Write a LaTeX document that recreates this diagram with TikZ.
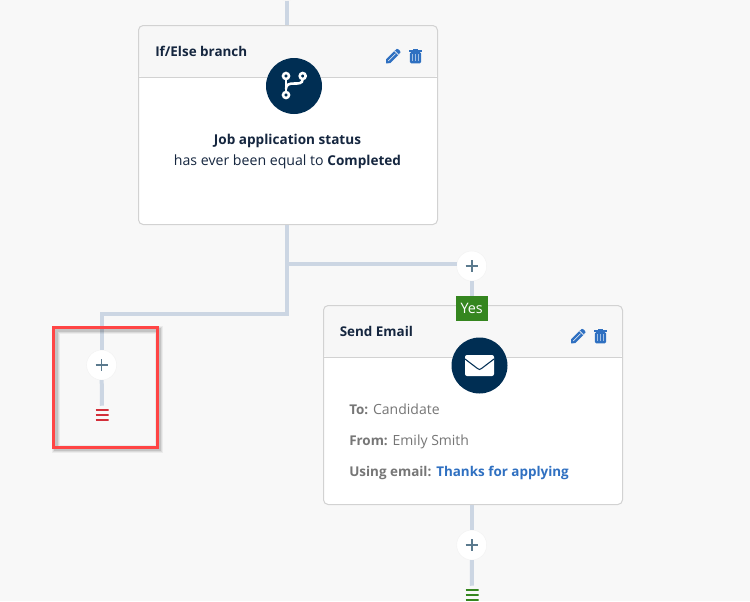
\documentclass[tikz,border=0pt]{standalone}
\usepackage{fontspec}
\setmainfont{Open Sans}
\newfontfamily\medfont[Scale=.96]{Open Sans}
\newcommand{\med}{\medfont\bfseries}
\definecolor{pagegray}{HTML}{F8F8F8}
\definecolor{headgray}{HTML}{F7F7F7}
\definecolor{cardgray}{HTML}{D2D2D2}
\definecolor{wirecol}{HTML}{CCD6E3}
\definecolor{navy}{HTML}{002E53}
\definecolor{inkcol}{HTML}{15263F}
\definecolor{iconblue}{HTML}{2F70C1}
\definecolor{greytext}{HTML}{767676}
\definecolor{pluscol}{HTML}{5B7A8E}
\definecolor{yesgreen}{HTML}{35861F}
\definecolor{stopred}{HTML}{D32F3A}
\definecolor{framered}{HTML}{FF4545}
\tikzset{
	wire/.style={draw=wirecol, line width=3pt},
	cardbox/.style={draw=cardgray, fill=white, line width=.75pt, rounded corners=3.5pt, inner sep=0pt,
		minimum width=224.25pt, minimum height=149.25pt,
		path picture={
			\fill[headgray] (path picture bounding box.north west) rectangle ([yshift=-39pt]path picture bounding box.north east);
			\draw[cardgray, line width=.75pt] ([yshift=-39pt]path picture bounding box.north west) -- ([yshift=-39pt]path picture bounding box.north east);
		}},
	plusnode/.style={circle, fill=white, draw=white!95!black, line width=.3pt, minimum size=22.5pt, inner sep=0pt,
		path picture={
			\draw[pluscol, line width=1.2pt, shift={(path picture bounding box.center)}] (-6,0) -- (6,0) (0,-6) -- (0,6);
		}},
	barsnode/.style={minimum width=9.75pt, minimum height=13.5pt, inner sep=0pt,
		path picture={
			\draw[#1, line width=1.4pt, shift={(path picture bounding box.center)}] (-6.5,-4.8) -- (6.5,-4.8) (-6.5,0) -- (6.5,0) (-6.5,4.6) -- (6.5,4.6);
		}},
	badge/.style={circle, fill=navy, minimum size=42pt, inner sep=0pt},
	flag/.style={fill=yesgreen, text=white, minimum width=24pt, minimum height=18.75pt, inner sep=0pt, font=\fontsize{10.8pt}{12pt}\selectfont},
	title/.style={anchor=base west, inner sep=0pt, text=inkcol, font=\fontsize{10.5pt}{12pt}\med},
	body/.style={anchor=base, inner sep=0pt, text=inkcol, font=\fontsize{10.6pt}{12pt}\selectfont},
	info/.style={anchor=base west, inner sep=0pt, text=greytext, font=\fontsize{10.5pt}{12pt}\selectfont},
	pencilicon/.pic={
		\fill[iconblue] (-7,7) -- (-6.9,2.9) -- (2.3,-6.3) -- (6.3,-2.3) -- (-2.9,6.9) -- cycle;
		\fill[iconblue, rounded corners=.8pt] (3.4,-7.4) -- (4.8,-7.6) -- (7.6,-4.8) -- (7.4,-3.4) -- (6.3,-2.3) -- (2.3,-6.3) -- cycle;
		\draw[pagegray, line width=.55pt] (1.5,-5.5) -- (5.5,-1.5);
		\draw[pagegray, line width=.4pt] (-4.6,4.6) -- (2.6,-2.6);
	},
	trashicon/.pic={
		\fill[iconblue] (-2.6,-7.4) rectangle (2.6,-5);
		\fill[iconblue] (-6.5,-6) rectangle (6.5,-4.4);
		\fill[iconblue, rounded corners=1pt] (-5.6,-3.8) rectangle (5.6,7.3);
		\foreach \s in {-2.7,0,2.7}
			\fill[white!55!iconblue] (\s-.6,-1.8) rectangle (\s+.6,5.2);
	},
	forkicon/.pic={
		\draw[white, line width=1.9pt] (-8,-7) -- (-8,6);
		\draw[white, line width=1.9pt] (8.7,-7) .. controls (8.7,-2) and (4,-2.5) .. (0,-2.5) .. controls (-5,-2.5) and (-8,-1.5) .. (-8,3);
		\draw[white, fill=navy, line width=1.9pt] (-8,-10) circle (3) (8.7,-10) circle (3) (-8,9) circle (3);
	},
	mailicon/.pic={
		\fill[white, rounded corners=1.5pt] (-14.5,-10.5) rectangle (14.5,10.5);
		\draw[navy, line width=.8pt] (-14.5,-6.5) -- (-2,3) -- (0,4) -- (2,3) -- (14.5,-6.5);
	}
}
\begin{document}
\begin{tikzpicture}[x=.75pt, y=-.75pt]
	\clip (0,0) rectangle (750,601);
	\fill[pagegray] (0,0) rectangle (750,601);
	% the two cards
	\node[cardbox] (branch) at (288,125) {};
	\node[cardbox] (email) at (473,405) {};
	\node[title] (branchtitle) at (155,56) {If/Else branch};
	\node[title] (emailtitle) at (339.5,336) {Send Email};
	\node[badge] (branchbadge) at (294,86) {};
	\node[badge] (emailbadge) at (479.5,365.5) {};
	\pic at (branchbadge) {forkicon};
	\pic at (emailbadge) {mailicon};
	\pic at (393,56.3) {pencilicon};
	\pic at (415.5,56) {trashicon};
	\pic at (578,336.3) {pencilicon};
	\pic at (600.5,336) {trashicon};
	\node[body] (status) at (287.5,144) {\med Job application status};
	\node[body] (equal) at (287.5,165) {has ever been equal to {\med Completed}};
	\node[info] (to) at (349,414) {{\med To:} Candidate};
	\node[info] (from) at (349,445) {{\med From:} Emily Smith};
	\node[info] (using) at (349,476) {{\med Using email:} \textcolor{iconblue}{\med Thanks for applying}};
	% plus buttons and ends
	\node[plusnode] (plustop) at (286.6,-14.5) {};
	\node[plusnode] (plusyes) at (471.7,266) {};
	\node[plusnode] (plusno) at (101.6,365) {};
	\node[plusnode] (plusend) at (471.7,545) {};
	\node[flag] (yes) at (471.7,308.5) {Yes};
	\node[barsnode=stopred] (stopno) at (102,415) {};
	\node[barsnode=yesgreen] (stopyes) at (472,595) {};
	\coordinate (trunk) at (plustop |- branch.south);
	\coordinate (fork) at (286.6,264);
	\coordinate (bend) at (286.6,314);
	\coordinate (corner) at (101.6,314);
	% connectors
	\draw[wire] (plustop) -- (plustop |- branch.north);
	\draw[wire] (trunk) -- (bend) -- (corner) -- (plusno);
	\draw[wire] (fork) -- (plusyes.west |- fork);
	\draw[wire] (plusyes) -- (yes);
	\draw[wire] (plusno) -- (stopno);
	\draw[wire] (plusend |- email.south) -- (plusend);
	\draw[wire] (plusend) -- (stopyes);
	% red marker box
	\foreach \w/\o in {6/.05,4.5/.07,3/.1}
		\draw[black, opacity=\o, line width=\w pt] (55.5,329.5) rectangle (158.5,448.5);
	\node[draw=framered, line width=2.5pt, minimum width=77.6pt, minimum height=89.7pt, inner sep=0pt] (marker) at (105.5,387.5) {};
\end{tikzpicture}
\end{document}
